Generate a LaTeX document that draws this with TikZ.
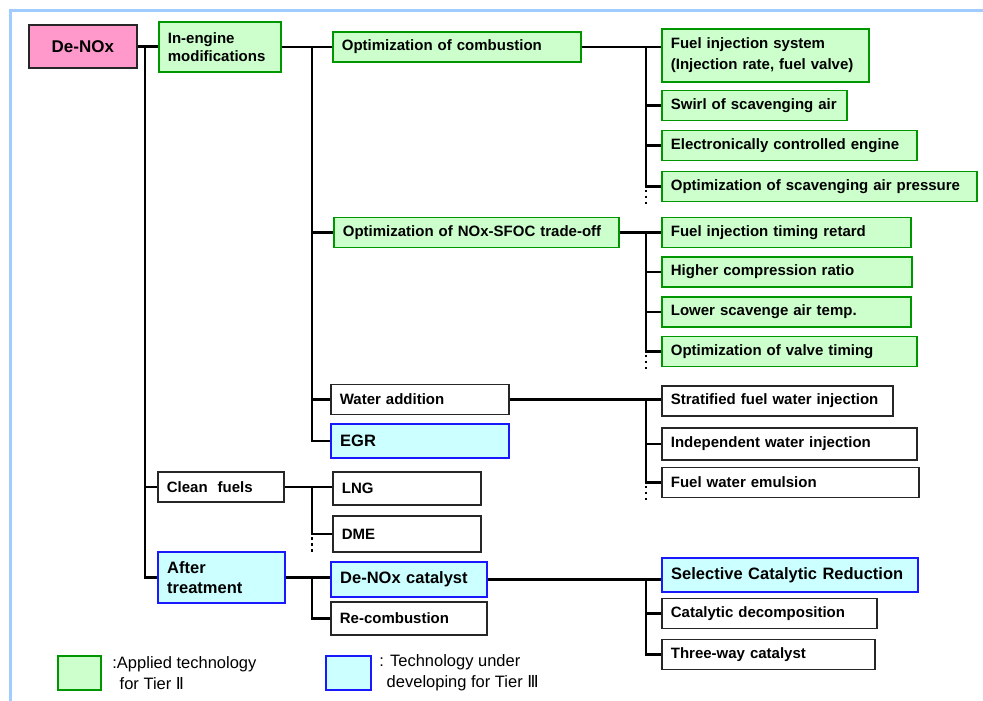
\documentclass[tikz,border=0pt]{standalone}
\usepackage{fontspec}
\setmainfont{Liberation Sans}
\newfontfamily\numfont{DejaVu Sans}
\usetikzlibrary{positioning}

\definecolor{appfill}{RGB}{204,255,204}
\definecolor{appline}{RGB}{0,150,0}
\definecolor{devfill}{RGB}{204,255,255}
\definecolor{devline}{RGB}{25,25,255}
\definecolor{rootfill}{RGB}{255,153,204}
\definecolor{framecol}{RGB}{160,204,255}

\begin{document}
\begin{tikzpicture}[x=1pt,y=-1pt,
  box/.style={draw=black!85, line width=1.7pt, anchor=west, inner xsep=9pt, inner ysep=0pt,
              minimum height=30pt, align=left, font=\bfseries\fontsize{15}{18}\selectfont},
  applied/.style={box, draw=appline, fill=appfill},
  develop/.style={box, draw=devline, fill=devfill, line width=2.4pt,
                  font=\bfseries\fontsize{16.5}{20}\selectfont},
  plain/.style={box, fill=white},
  keybox/.style={line width=2.2pt, anchor=west, minimum width=43pt, minimum height=34pt, inner sep=0pt},
  keytext/.style={align=left, inner sep=0pt, font=\fontsize{16.5}{21}\selectfont},
  link/.style={line width=2.5pt},
  more/.style={line width=2.5pt, dash pattern=on 2.5pt off 3.5pt}
]
  \useasboundingbox (0,0) rectangle (983,701);
  \draw[framecol, line width=3pt] (983,11) -| (10,701);

  \node[box, fill=rootfill, text width=90pt, align=center, minimum height=43pt,
        font=\bfseries\fontsize{17}{20}\selectfont] (denox) at (28,46.5) {De-NOx};
  \node[applied, text width=104pt, minimum height=50pt] (inengine) at (158,47)
        {In-engine\\modifications};

  \node[applied, text width=230pt] (comb)    at (332,47)    {Optimization of combustion};
  \node[applied, text width=267pt] (sfoc)    at (333,232.5) {Optimization of NOx-SFOC trade-off};
  \node[plain,   text width=160pt] (water)   at (330,399.5) {Water addition};
  \node[develop, text width=160pt, minimum height=34pt] (egr) at (330,441) {EGR};
  \node[plain,   text width=108pt] (clean)   at (157,487)   {Clean~~fuels};
  \node[plain,   text width=130pt, minimum height=33pt] (lng) at (332,488.5) {LNG};
  \node[plain,   text width=130pt, minimum height=36pt] (dme) at (332,534)   {DME};
  \node[develop, text width=109pt, minimum height=51pt] (after) at (157,577.5)
        {After\\treatment};
  \node[develop, text width=138pt, minimum height=35pt] (cat)    at (330,579.5) {De-NOx catalyst};
  \node[plain,   text width=138pt, minimum height=33pt] (recomb) at (330,618.5) {Re-combustion};

  \node[applied, text width=189pt, minimum height=53pt] (fuelinj) at (661,55.5)
        {Fuel injection system\\[3pt](Injection rate, fuel valve)};
  \node[applied, text width=167pt] (swirl)    at (661,105.5) {Swirl of scavenging air};
  \node[applied, text width=237pt] (elec)     at (661,145.5) {Electronically controlled engine};
  \node[applied, text width=297pt] (scavp)    at (661,186.5) {Optimization of scavenging air pressure};
  \node[applied, text width=231pt] (retard)   at (661,232.5) {Fuel injection timing retard};
  \node[applied, text width=232pt] (compr)    at (661,272)   {Higher compression ratio};
  \node[applied, text width=231pt] (lowtemp)  at (661,312)   {Lower scavenge air temp.};
  \node[applied, text width=237pt] (valve)    at (661,351.5) {Optimization of valve timing};
  \node[plain,   text width=213pt] (strat)    at (661,401)   {Stratified fuel water injection};
  \node[plain,   text width=237pt, minimum height=32pt] (indep) at (661,444) {Independent water injection};
  \node[plain,   text width=239pt] (emul)     at (661,482.5) {Fuel water emulsion};
  \node[develop, text width=238pt, minimum height=34pt] (scr) at (661,575) {Selective Catalytic Reduction};
  \node[plain,   text width=197pt] (decomp)   at (661,613.5) {Catalytic decomposition};
  \node[plain,   text width=195pt] (threeway) at (661,654.5) {Three-way catalyst};

  \coordinate (j1) at (145,46.5);
  \coordinate (j2) at (312,47);
  \coordinate (j3) at (312,487);
  \coordinate (j4) at (312,577.5);
  \coordinate (j5) at (646,47);
  \coordinate (j6) at (646,232.5);
  \coordinate (j7) at (646,399.5);
  \coordinate (j8) at (646,579.5);

  \draw[link] (denox.east) -- (denox.east -| inengine.west);
  \draw[link] (j1) |- (clean.west);
  \draw[link] (j1) |- (after.west);

  \draw[link] (inengine.east) -- (inengine.east -| comb.west);
  \draw[link] (j2) |- (sfoc.west);
  \draw[link] (j2) |- (water.west);
  \draw[link] (j2) |- (egr.west);

  \draw[link] (clean.east) -- (clean.east -| lng.west);
  \draw[link] (j3) |- (dme.west);
  \draw[more] ([yshift=-3pt]dme.west -| j3) -- ++(0,17);

  \draw[link] (after.east) -- (after.east -| cat.west);
  \draw[link] (j4) |- (recomb.west);

  \draw[link] (comb.east) -- (comb.east -| fuelinj.west);
  \draw[link] (j5) |- (swirl.west);
  \draw[link] (j5) |- (elec.west);
  \draw[link] (j5) |- (scavp.west);
  \draw[more] ([yshift=-3pt]scavp.west -| j5) -- ++(0,17);

  \draw[link] (sfoc.east) -- (sfoc.east -| retard.west);
  \draw[link] (j6) |- (compr.west);
  \draw[link] (j6) |- (lowtemp.west);
  \draw[link] (j6) |- (valve.west);
  \draw[more] ([yshift=-3pt]valve.west -| j6) -- ++(0,17);

  \draw[link] (water.east) -- (water.east -| strat.west);
  \draw[link] (j7) |- (indep.west);
  \draw[link] (j7) |- (emul.west);
  \draw[more] ([yshift=-3pt]emul.west -| j7) -- ++(0,17);

  \draw[link] (cat.east) -- (cat.east -| scr.west);
  \draw[link] (j8) |- (decomp.west);
  \draw[link] (j8) |- (threeway.west);

  \node[keybox, draw=appline, fill=appfill] (keyapp) at (57,673) {};
  \node[keytext, right=10pt of keyapp] (keyapptext)
        {:Applied technology\\\phantom{:}\,for Tier {\numfont Ⅱ}};
  \node[keybox, draw=devline, fill=devfill, minimum width=45pt] (keydev) at (325,673) {};
  \node[keytext, right=7pt of keydev] (keydevtext)
        {: Technology under\\\phantom{:}\,developing for Tier {\numfont Ⅲ}};
\end{tikzpicture}
\end{document}
